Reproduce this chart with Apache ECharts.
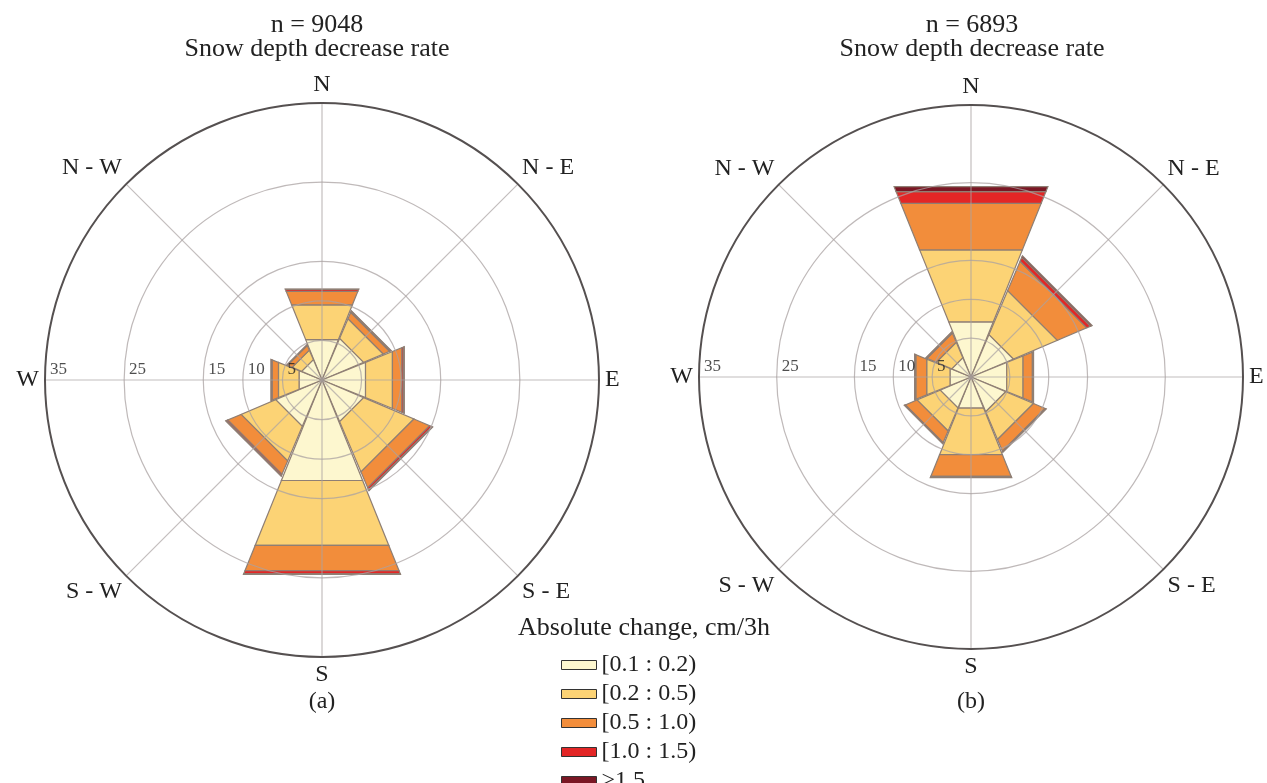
<!DOCTYPE html>
<html>
<head>
<meta charset="utf-8">
<script src="https://cdn.jsdelivr.net/npm/echarts@6/dist/echarts.min.js"></script>
<style>
html,body{margin:0;padding:0;background:#fff;}
#chart{width:1267px;height:783px;}
</style>
</head>
<body>
<div id="chart"></div>
<script>
// ---- data ----
var directions = ['N', 'N - E', 'E', 'S - E', 'S', 'S - W', 'W', 'N - W'];
var classNames = ['[0.1 : 0.2)', '[0.2 : 0.5)', '[0.5 : 1.0)', '[1.0 : 1.5)', '>1.5'];
var classColors = ['#fdf7cf', '#fcd375', '#f28d3b', '#e32626', '#7a1724'];
var radiusTicks = [5, 10, 15, 25, 35];
var titlesA = ['n = 9048', 'Snow depth decrease rate'];
var titlesB = ['n = 6893', 'Snow depth decrease rate'];
var legendTitle = 'Absolute change, cm/3h';

// chart (a), values per class, order N, N-E, E, S-E, S, S-W, W, N-W (%)
var a_c1 = [5.1, 5.3, 5.5, 5.3, 12.7, 5.9, 2.9, 2.6];
var a_c2 = [4.4, 2.5, 3.4, 6.4, 8.2, 4.4, 2.6, 1.2];
var a_c3 = [1.7, 0.8, 1.2, 2.0, 3.2, 1.7, 0.8, 0.6];
var a_c4 = [0.25, 0.15, 0.2, 0.3, 0.4, 0.2, 0.1, 0.1];
var a_c5 = [0.05, 0.05, 0.1, 0.1, 0.05, 0.05, 0.05, 0.0];

// chart (b)
var b_c1 = [7.1, 5.5, 4.6, 4.5, 4.0, 4.0, 2.7, 2.5];
var b_c2 = [9.25, 5.7, 2.1, 3.6, 6.0, 3.0, 3.0, 2.0];
var b_c3 = [6.0, 3.8, 1.2, 1.5, 2.8, 1.5, 1.4, 1.2];
var b_c4 = [1.5, 0.5, 0.1, 0.1, 0.1, 0.1, 0.1, 0.1];
var b_c5 = [0.65, 0.2, 0.05, 0.05, 0.05, 0.05, 0.05, 0.05];

var HALF = 22; // half width of a wedge, degrees
var FONT = '"Liberation Serif", "Times New Roman", serif';

// angle value (clockwise from W) for direction index
function dirAngle(i) { return (i * 45 + 90) % 360; }

function buildSeries(classes, polarIndex) {
  var out = [];
  var cum = directions.map(function () { return 0; });
  classes.forEach(function (vals, ci) {
    var data = vals.map(function (v, di) {
      var r0 = cum[di];
      cum[di] += v;
      return [di, r0, cum[di]];
    });
    out.push({
      type: 'custom',
      name: classNames[ci],
      coordinateSystem: 'polar',
      polarIndex: polarIndex,
      itemStyle: { color: classColors[ci] },
      silent: true,
      z: 2,
      data: data,
      renderItem: function (params, api) {
        var di = api.value(0), r0 = api.value(1), r1 = api.value(2);
        if (r1 - r0 <= 0) return null;
        var k = 1 / Math.cos(HALF * Math.PI / 180);
        var a = dirAngle(di);
        var pts = [
          api.coord([r0 * k, a - HALF]),
          api.coord([r1 * k, a - HALF]),
          api.coord([r1 * k, a + HALF]),
          api.coord([r0 * k, a + HALF])
        ];
        return {
          type: 'polygon',
          shape: { points: pts },
          style: { fill: classColors[ci], stroke: '#8f7f74', lineWidth: 1.2 }
        };
      }
    });
  });
  out.push({
    type: 'scatter',
    coordinateSystem: 'polar',
    polarIndex: polarIndex,
    silent: true,
    symbolSize: 0.1,
    itemStyle: { color: 'rgba(0,0,0,0)' },
    z: 12,
    data: radiusTicks.map(function (t) { return [t, 0]; }),
    label: {
      show: true,
      position: [5, -19],
      formatter: function (p) { return String(p.value[0]); },
      fontFamily: FONT,
      fontSize: 17,
      color: '#222'
    }
  });
  return out;
}

function angleAxisCfg(pi) {
  return {
    polarIndex: pi, type: 'value', min: 0, max: 360, interval: 45,
    startAngle: 180, clockwise: true, z: 10,
    axisLine: { show: true, lineStyle: { color: '#555050', width: 2 } },
    axisTick: { show: false },
    axisLabel: {
      show: true, margin: 6, fontFamily: FONT, fontSize: 24, color: '#222',
      formatter: function (v) { return directions[((Math.round(v / 45) - 2) % 8 + 8) % 8]; }
    },
    splitLine: { show: true, lineStyle: { color: 'rgba(170,162,162,0.7)', width: 1.2 } }
  };
}
function radiusAxisCfg(pi) {
  var g = 'rgba(170,162,162,0.75)', t = 'rgba(0,0,0,0)';
  return {
    polarIndex: pi, type: 'value', min: 0, max: 35, interval: 5, z: 10,
    axisLine: { show: false }, axisTick: { show: false }, axisLabel: { show: false },
    splitLine: { show: true, lineStyle: { color: [t, g, g, g, t, g, t, t], width: 1.2 } }
  };
}

function txt(x, y, s, size) {
  return { type: 'text', x: x, y: y, silent: true, z: 20,
    style: { text: s, fontFamily: FONT, fontSize: size, fill: '#222', align: 'center', verticalAlign: 'middle' } };
}

var chart = echarts.init(document.getElementById('chart'), null, { renderer: 'canvas' });
chart.setOption({
  animation: false,
  backgroundColor: '#fff',
  polar: [
    { center: [322, 380], radius: 277 },
    { center: [971, 377], radius: 272 }
  ],
  angleAxis: [angleAxisCfg(0), angleAxisCfg(1)],
  radiusAxis: [radiusAxisCfg(0), radiusAxisCfg(1)],
  legend: {
    orient: 'vertical', left: 556, top: 648, height: 220,
    itemWidth: 35, itemHeight: 9, itemGap: 5,
    icon: 'rect',
    data: classNames,
    itemStyle: { borderColor: '#333', borderWidth: 1 },
    textStyle: { fontFamily: FONT, fontSize: 24, color: '#222' },
    selectedMode: false
  },
  graphic: [
    txt(317, 25, titlesA[0], 26),
    txt(317, 49, titlesA[1], 26),
    txt(972, 25, titlesB[0], 26),
    txt(972, 49, titlesB[1], 26),
    txt(322, 702, '(a)', 24),
    txt(971, 702, '(b)', 24),
    txt(644, 628, legendTitle, 26)
  ],
  series: buildSeries([a_c1, a_c2, a_c3, a_c4, a_c5], 0)
    .concat(buildSeries([b_c1, b_c2, b_c3, b_c4, b_c5], 1))
});
</script>
</body>
</html>
